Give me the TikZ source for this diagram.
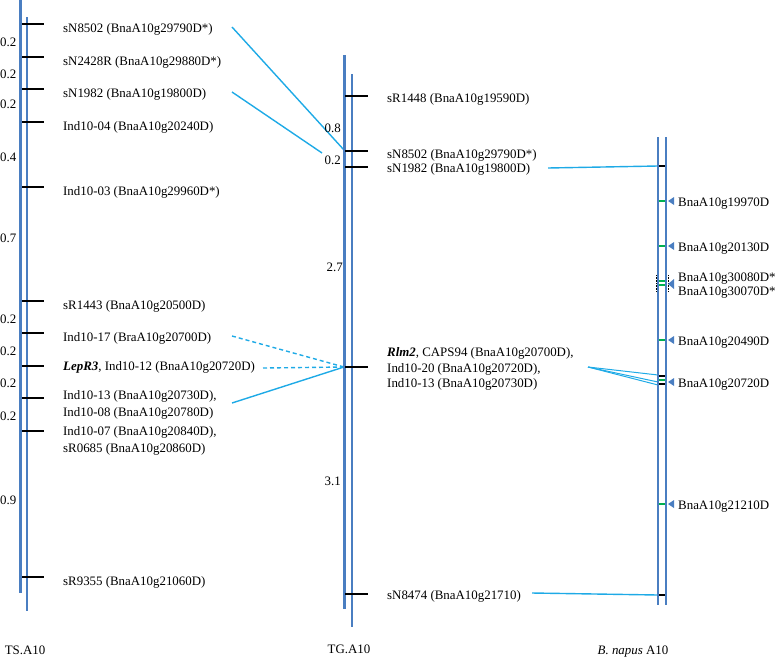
\documentclass[tikz,border=0pt]{standalone}
\usepackage{fontspec}
\setmainfont{Liberation Serif}
\usepackage{tikz}
\pgfdeclarelayer{background}
\pgfdeclarelayer{foreground}
\pgfsetlayers{background,main,foreground}
\definecolor{chromblue}{RGB}{74,126,193}
\definecolor{linkblue}{RGB}{30,170,230}
\definecolor{genegreen}{RGB}{0,176,80}

\begin{document}
\begin{tikzpicture}[x=1pt,y=-1pt,
  chrom/.style={draw=chromblue,line width=3pt},
  chromthin/.style={draw=chromblue,line width=2.2pt},
  mtick/.style={draw=black,line width=1.2pt},
  lbl/.style={anchor=base west,inner sep=0pt,align=left,font=\fontsize{12.9}{17}\selectfont},
  dist/.style={inner sep=0pt,font=\fontsize{12.9}{15}\selectfont},
  link/.style={draw=linkblue,line width=1.4pt},
  gmark/.style={draw=genegreen,line width=1.6pt},
  tri/.style={fill=chromblue}]
\useasboundingbox (0,0) rectangle (775,656);

% TS.A10
\draw[chrom] (20,0) -- (20,593);
\draw[chromthin] (27,17) -- (27,611);
\draw[mtick] (22,24) -- (44,24);
\draw[mtick] (22,57) -- (44,57);
\draw[mtick] (22,89) -- (44,89);
\draw[mtick] (22,122) -- (44,122);
\draw[mtick] (22,187) -- (44,187);
\draw[mtick] (22,301) -- (44,301);
\draw[mtick] (22,333) -- (44,333);
\draw[mtick] (22,366) -- (44,366);
\draw[mtick] (22,398) -- (44,398);
\draw[mtick] (22,431) -- (44,431);
\draw[mtick] (22,577) -- (44,577);
\node[lbl] (tsN8502) at (63,32) {sN8502 (BnaA10g29790D*)};
\node[lbl] (tsN2428) at (63,65) {sN2428R (BnaA10g29880D*)};
\node[lbl] (tsN1982) at (63,97) {sN1982 (BnaA10g19800D)};
\node[lbl] (tsI04) at (63,130) {Ind10-04 (BnaA10g20240D)};
\node[lbl] (tsI03) at (63,195) {Ind10-03 (BnaA10g29960D*)};
\node[lbl] (tsR1443) at (63,309) {sR1443 (BnaA10g20500D)};
\node[lbl] (tsI17) at (63,341) {Ind10-17 (BraA10g20700D)};
\node[lbl] (tsLepR3) at (63,370) {\textbf{\textit{LepR3}}, Ind10-12 (BnaA10g20720D)};
\node[lbl] (tsI13) at (63,416) {Ind10-13 (BnaA10g20730D),\\Ind10-08 (BnaA10g20780D)};
\node[lbl] (tsI07) at (63,452) {Ind10-07 (BnaA10g20840D),\\sR0685 (BnaA10g20860D)};
\node[lbl] (tsR9355) at (63,585) {sR9355 (BnaA10g21060D)};
\node[dist,anchor=west] (tsd1) at (0,42) {0.2};
\node[dist,anchor=west] (tsd2) at (0,74) {0.2};
\node[dist,anchor=west] (tsd3) at (0,104) {0.2};
\node[dist,anchor=west] (tsd4) at (0,157) {0.4};
\node[dist,anchor=west] (tsd5) at (0,238) {0.7};
\node[dist,anchor=west] (tsd6) at (0,319) {0.2};
\node[dist,anchor=west] (tsd7) at (0,351) {0.2};
\node[dist,anchor=west] (tsd8) at (0,383) {0.2};
\node[dist,anchor=west] (tsd9) at (0,416) {0.2};
\node[dist,anchor=west] (tsd10) at (0,500) {0.9};
\node[lbl,anchor=base] (tsname) at (25,654) {TS.A10};

% TG.A10
\draw[chrom] (344,55) -- (344,609);
\draw[chromthin] (352,74) -- (352,627);
\draw[mtick] (345,96) -- (368,96);
\draw[mtick] (345,151) -- (368,151);
\draw[mtick] (345,167) -- (368,167);
\draw[mtick] (345,367) -- (368,367);
\draw[mtick] (345,594) -- (368,594);
\node[lbl] (tgR1448) at (387,102) {sR1448 (BnaA10g19590D)};
\node[lbl] (tgN8502) at (387,158) {sN8502 (BnaA10g29790D*)};
\node[lbl] (tgN1982) at (387,172) {sN1982 (BnaA10g19800D)};
\node[lbl,anchor=west,font=\fontsize{12.9}{15.5}\selectfont] (tgRlm2) at (387,369) {\textbf{\textit{Rlm2}}, CAPS94 (BnaA10g20700D),\\Ind10-20 (BnaA10g20720D),\\Ind10-13 (BnaA10g20730D)};
\node[lbl] (tgN8474) at (387,599) {sN8474 (BnaA10g21710)};
\node[dist,anchor=east] (tgd1) at (341,128) {0.8};
\node[dist,anchor=east] (tgd2) at (341,160) {0.2};
\node[dist,anchor=east] (tgd3) at (343,267) {2.7};
\node[dist,anchor=east] (tgd4) at (341,481) {3.1};
\node[lbl,anchor=base] (tgname) at (349,653) {TG.A10};

% B. napus A10
\draw[chromthin] (658,137) -- (658,605);
\draw[chromthin] (666,137) -- (666,605);
\draw[mtick] (659,166) -- (665,166);
\draw[mtick] (659,376) -- (665,376);
\draw[mtick] (659,384) -- (665,384);
\draw[mtick] (659,595) -- (665,595);
\draw[gmark] (659,201) -- (665,201);
\draw[gmark] (659,246) -- (665,246);
\draw[gmark] (659,281) -- (665,281);
\draw[gmark] (659,285) -- (665,285);
\draw[gmark] (659,340) -- (665,340);
\draw[gmark] (659,380) -- (665,380);
\draw[gmark] (659,504) -- (665,504);
\draw[black,line width=0.6pt,densely dotted] (656,275) -- (656,292);
\draw[black,line width=0.6pt,densely dotted] (668,275) -- (668,292);
\fill[tri] (674,197) -- (668,201) -- (674,205) -- cycle;
\fill[tri] (674,242) -- (668,246) -- (674,250) -- cycle;
\fill[tri] (674,279) -- (668,284) -- (674,289) -- cycle;
\fill[tri] (674,336) -- (668,340) -- (674,344) -- cycle;
\fill[tri] (674,378) -- (668,382) -- (674,386) -- cycle;
\fill[tri] (674,500) -- (668,504) -- (674,508) -- cycle;
\node[lbl] (bn19970) at (678,206) {BnaA10g19970D};
\node[lbl] (bn20130) at (678,251) {BnaA10g20130D};
\node[lbl] (bn30080) at (678,281) {BnaA10g30080D*};
\node[lbl] (bn30070) at (678,295) {BnaA10g30070D*};
\node[lbl] (bn20490) at (678,345) {BnaA10g20490D};
\node[lbl] (bn20720) at (678,387) {BnaA10g20720D};
\node[lbl] (bn21210) at (678,509) {BnaA10g21210D};
\node[lbl,anchor=base] (bnname) at (633,654) {\textit{B. napus} A10};

% connectors
\coordinate (ts8502e) at (232,27);
\coordinate (ts1982e) at (232,92);
\coordinate (ts17e) at (232,336);
\coordinate (tsLepe) at (263,368);
\coordinate (ts13e) at (232,403);
\coordinate (tg8502w) at (344,150);
\coordinate (tg1982w) at (322,153);
\coordinate (tgRlmw) at (344,367);
\coordinate (tg1982e) at (548,168);
\coordinate (tgRlme) at (588,367);
\coordinate (tg8474e) at (532,593);
\coordinate (bn1982) at (658,166);
\coordinate (bnRa) at (658,375);
\coordinate (bnRb) at (658,382);
\coordinate (bnRc) at (658,385);
\coordinate (bn8474) at (658,595);
\begin{pgfonlayer}{background}
\draw[link] (ts8502e) -- (tg8502w);
\draw[link] (ts1982e) -- (tg1982w);
\draw[link,dash pattern=on 4pt off 3pt] (ts17e) -- (tgRlmw);
\draw[link,dash pattern=on 4pt off 3pt] (tsLepe) -- (tgRlmw);
\draw[link] (ts13e) -- (tgRlmw);
\draw[link] (tg1982e) -- (bn1982);
\draw[link,line width=1pt] (tgRlme) -- (bnRa);
\draw[link,line width=1pt] (tgRlme) -- (bnRb);
\draw[link,line width=1pt] (tgRlme) -- (bnRc);
\draw[link] (tg8474e) -- (bn8474);
\end{pgfonlayer}
\end{tikzpicture}
\end{document}
